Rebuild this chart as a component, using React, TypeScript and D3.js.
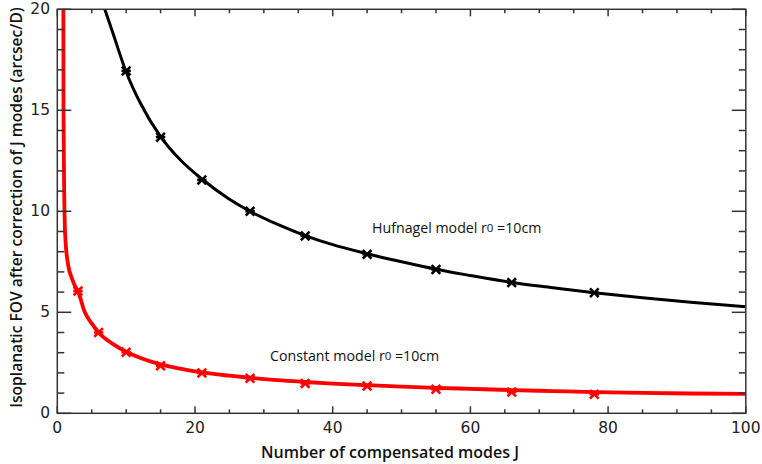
import React from "react";
import * as d3 from "d3";

// Isoplanatic field of view versus number of compensated modes J
const hufnagelLineJ = [6.9, 8, 10, 12, 15, 18, 21, 25, 28, 32, 36, 40, 45, 50, 55, 60, 66, 72, 78, 85, 92, 100];
const hufnagelLineV = [20.0, 18.9, 16.9, 15.4, 13.7, 12.5, 11.6, 10.6, 10.0, 9.35, 8.8, 8.35, 7.9, 7.5, 7.13, 6.82, 6.48, 6.22, 5.97, 5.72, 5.5, 5.28];

const constantLineJ = [0.88, 0.9, 1.0, 1.1, 1.2, 1.6, 2.1, 2.5, 3, 4, 5, 6, 8, 10, 12, 15, 18, 21, 25, 28, 32, 36, 40, 45, 50, 55, 60, 66, 72, 78, 85, 92, 100];
const constantLineV = [20.5, 15, 11, 9.2, 8.5, 7.3, 6.7, 6.35, 6.05, 5.0, 4.45, 4.0, 3.45, 3.05, 2.75, 2.42, 2.2, 2.02, 1.86, 1.76, 1.64, 1.55, 1.47, 1.39, 1.32, 1.26, 1.21, 1.15, 1.1, 1.05, 1.01, 0.98, 0.96];

const markerJ = [10, 15, 21, 28, 36, 45, 55, 66, 78];
const hufnagelMarkV = [16.95, 13.67, 11.55, 10.0, 8.78, 7.87, 7.12, 6.47, 5.97];
const constantMarkJ = [3, 6, 10, 15, 21, 28, 36, 45, 55, 66, 78];
const constantMarkV = [6.05, 4.0, 3.02, 2.35, 2.0, 1.73, 1.48, 1.35, 1.19, 1.05, 0.94];

const xMajor = [0, 20, 40, 60, 80, 100];
const yMajor = [0, 5, 10, 15, 20];

const W = 762;
const H = 464;
const left = 57.3;
const right = 745.8;
const top = 9.3;
const bottom = 413.3;

const x = d3.scaleLinear().domain([0, 100]).range([left, right]);
const y = d3.scaleLinear().domain([0, 20]).range([bottom, top]);

const xMinor = d3.range(0, 101, 5).filter((v) => v % 20 !== 0);
const yMinor = d3.range(0, 21, 1).filter((v) => v % 5 !== 0);

const lineGen = d3
  .line<[number, number]>()
  .x((d) => x(d[0]))
  .y((d) => y(d[1]))
  .curve(d3.curveMonotoneX);

function zip(a: number[], b: number[]): [number, number][] {
  return a.map((v, i) => [v, b[i]]);
}

function Asterisk({ cx, cy, color }: { cx: number; cy: number; color: string }) {
  const s = 3.4;
  return (
    <g stroke={color} strokeWidth={2.6} strokeLinecap="square">
      <line x1={cx - s} y1={cy - s} x2={cx + s} y2={cy + s} />
      <line x1={cx - s} y1={cy + s} x2={cx + s} y2={cy - s} />
      <line x1={cx - s} y1={cy} x2={cx + s} y2={cy} />
    </g>
  );
}

export default function App() {
  const axisColor = "#333";
  const tickFont = "DejaVu Sans, Verdana, sans-serif";
  const textFont = "'Open Sans', 'Noto Sans', sans-serif";

  return (
    <svg
      width={W}
      height={H}
      style={{ position: "absolute", left: 0, top: 0, background: "#fff" }}
    >
      <defs>
        <clipPath id="plotClip">
          <rect x={left} y={top} width={right - left} height={bottom - top} />
        </clipPath>
      </defs>

      {/* curves */}
      <g clipPath="url(#plotClip)" fill="none">
        <path d={lineGen(zip(hufnagelLineJ, hufnagelLineV)) || ""} stroke="#000" strokeWidth={3} />
        <path d={lineGen(zip(constantLineJ, constantLineV)) || ""} stroke="#ff0000" strokeWidth={3.8} />
      </g>

      {/* markers */}
      {markerJ.map((j, i) => (
        <Asterisk key={"h" + i} cx={x(j)} cy={y(hufnagelMarkV[i])} color="#000" />
      ))}
      {constantMarkJ.map((j, i) => (
        <Asterisk key={"c" + i} cx={x(j)} cy={y(constantMarkV[i])} color="#ff0000" />
      ))}

      {/* frame */}
      <rect
        x={left}
        y={top}
        width={right - left}
        height={bottom - top}
        fill="none"
        stroke={axisColor}
        strokeWidth={1.5}
      />

      {/* ticks on all four sides */}
      <g stroke={axisColor} strokeWidth={1.5}>
        {xMajor.map((v) => (
          <g key={"xm" + v}>
            <line x1={x(v)} x2={x(v)} y1={bottom} y2={bottom - 7} />
            <line x1={x(v)} x2={x(v)} y1={top} y2={top + 7} />
          </g>
        ))}
        {xMinor.map((v) => (
          <g key={"xn" + v}>
            <line x1={x(v)} x2={x(v)} y1={bottom} y2={bottom - 4} />
            <line x1={x(v)} x2={x(v)} y1={top} y2={top + 4} />
          </g>
        ))}
        {yMajor.map((v) => (
          <g key={"ym" + v}>
            <line x1={left} x2={left + 14} y1={y(v)} y2={y(v)} />
            <line x1={right} x2={right - 14} y1={y(v)} y2={y(v)} />
          </g>
        ))}
        {yMinor.map((v) => (
          <g key={"yn" + v}>
            <line x1={left} x2={left + 7} y1={y(v)} y2={y(v)} />
            <line x1={right} x2={right - 7} y1={y(v)} y2={y(v)} />
          </g>
        ))}
      </g>

      {/* tick labels */}
      <g fontFamily={tickFont} fontSize={15.5} fill="#222">
        {xMajor.map((v) => (
          <text key={"xl" + v} x={x(v)} y={428} textAnchor="middle" dominantBaseline="central">
            {v}
          </text>
        ))}
        {yMajor.map((v) => (
          <text key={"yl" + v} x={50} y={y(v)} textAnchor="end" dominantBaseline="central">
            {v}
          </text>
        ))}
      </g>

      {/* axis titles */}
      <text
        x={390}
        y={451.5}
        textAnchor="middle"
        dominantBaseline="central"
        fontFamily={textFont}
        fontSize={16}
        fontWeight={600}
        fill="#111"
      >
        Number of compensated modes J
      </text>
      <text
        transform={`translate(16,207.5) rotate(-90)`}
        textAnchor="middle"
        dominantBaseline="central"
        fontFamily={textFont}
        fontSize={15.6}
        fontWeight={600}
        fill="#111"
      >
        Isoplanatic FOV after correction of J modes (arcsec/D)
      </text>

      {/* curve annotations */}
      <g fontFamily={textFont} fontSize={14.2} fill="#111">
        <text x={372} y={227} dominantBaseline="central">
          Hufnagel model r<tspan fontSize={11.5}>0</tspan> =10cm
        </text>
        <text x={270} y={355} dominantBaseline="central">
          Constant model r<tspan fontSize={11.5}>0</tspan> =10cm
        </text>
      </g>
    </svg>
  );
}
